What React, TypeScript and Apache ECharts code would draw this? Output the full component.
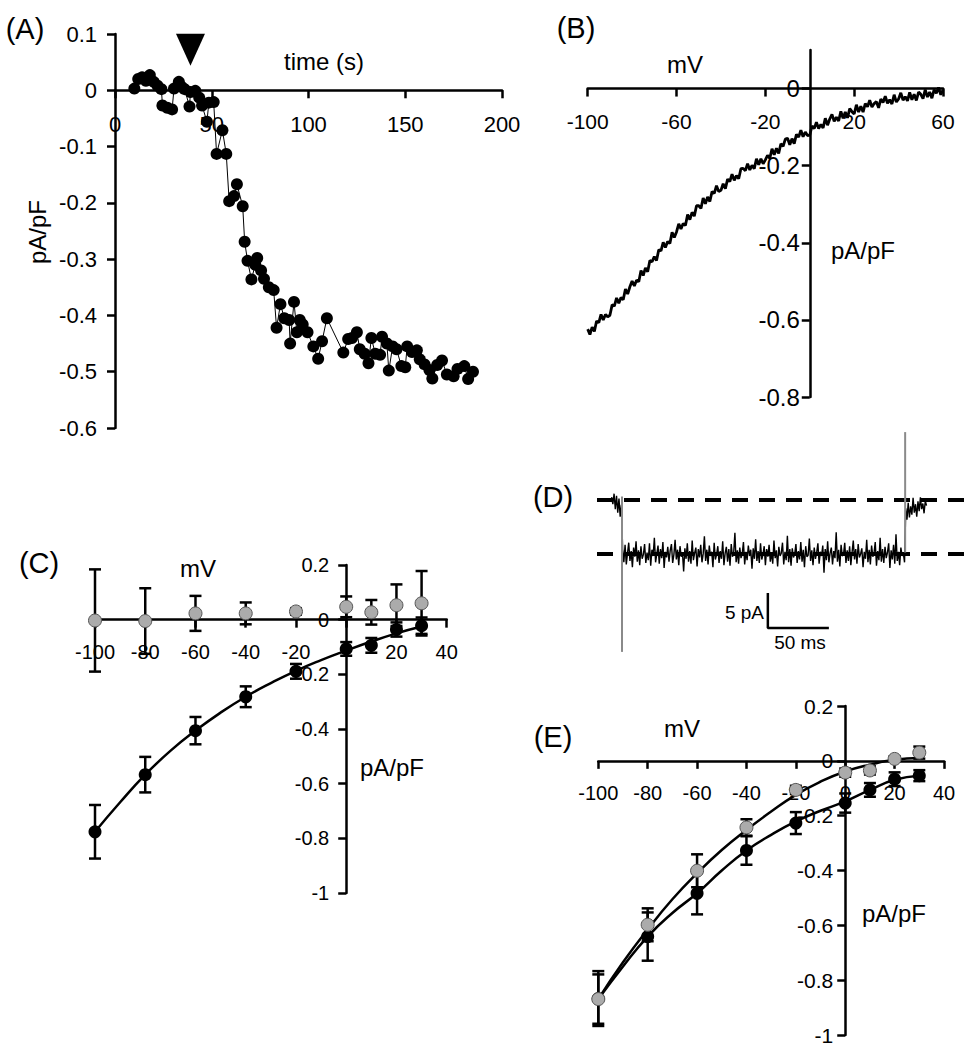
import React, { useEffect, useRef } from "react";
import * as echarts from "echarts";

const FONT = "Liberation Sans, Arial, Helvetica, sans-serif";

// ---------------- Panel A: current density vs time ----------------
const aTime = [10,12,14,16,18,20,22,24,24.5,27,29.5,30.5,33,34.5,36,38.5,39,41.5,43.5,45,47.5,48.5,51,52.5,55.5,57.5,59,61.5,63,66,67,68.5,70.5,72.5,73.5,75.5,77,79.5,82,83.5,85.5,87.5,90,90.5,92.5,94,95.5,97,99.5,102.5,105,107,109.5,118,120.5,122.5,125,126.5,129,131,132.5,134.5,137,138,140.5,141.5,143.5,145.5,148,150,151,153.5,156,157.5,160,162.5,164,166.5,169,171.5,175,177,180.5,182.5,185];
const aCurrent = [0.003,0.02,0.023,0.017,0.027,0.015,0.008,0.002,-0.027,-0.031,-0.034,0.003,0.015,0.006,0.002,-0.029,-0.003,-0.001,-0.013,-0.027,-0.056,-0.022,-0.021,-0.113,-0.071,-0.113,-0.197,-0.188,-0.167,-0.206,-0.269,-0.303,-0.336,-0.31,-0.298,-0.32,-0.335,-0.35,-0.355,-0.422,-0.38,-0.405,-0.408,-0.45,-0.376,-0.43,-0.408,-0.416,-0.43,-0.455,-0.477,-0.446,-0.405,-0.466,-0.442,-0.44,-0.43,-0.46,-0.468,-0.485,-0.44,-0.468,-0.47,-0.438,-0.45,-0.498,-0.455,-0.46,-0.49,-0.492,-0.455,-0.465,-0.462,-0.478,-0.487,-0.497,-0.512,-0.488,-0.48,-0.505,-0.508,-0.495,-0.49,-0.513,-0.5];
const aArrowTime = 39;
const aArrowLevel = 0.072;
const aXTicks = [0, 50, 100, 150, 200];

// ---------------- Panel B: ramp I-V trace (1 mV samples) ----------------
const bStartMv = -100;
const bStepMv = 1;
const bCurrent = [
  -0.624,-0.638,-0.619,-0.630,-0.603,-0.607,-0.586,-0.600,-0.586,-0.592,
  -0.588,-0.561,-0.564,-0.543,-0.557,-0.542,-0.548,-0.520,-0.533,-0.514,
  -0.499,-0.512,-0.497,-0.501,-0.472,-0.485,-0.465,-0.475,-0.446,-0.449,
  -0.436,-0.446,-0.418,-0.421,-0.399,-0.412,-0.397,-0.402,-0.373,-0.386,
  -0.372,-0.351,-0.364,-0.350,-0.355,-0.327,-0.340,-0.321,-0.331,-0.304,
  -0.304,-0.311,-0.284,-0.299,-0.281,-0.293,-0.267,-0.272,-0.252,-0.267,
  -0.264,-0.247,-0.260,-0.235,-0.241,-0.222,-0.238,-0.226,-0.234,-0.208,
  -0.207,-0.213,-0.195,-0.211,-0.199,-0.208,-0.182,-0.198,-0.182,-0.195,
  -0.185,-0.173,-0.181,-0.156,-0.172,-0.155,-0.168,-0.143,-0.150,-0.131,
  -0.129,-0.146,-0.130,-0.143,-0.119,-0.126,-0.108,-0.125,-0.113,-0.122,
  -0.121,-0.097,-0.104,-0.087,-0.104,-0.093,-0.102,-0.077,-0.095,-0.079,
  -0.067,-0.085,-0.074,-0.084,-0.059,-0.077,-0.061,-0.076,-0.052,-0.060,
  -0.066,-0.042,-0.061,-0.046,-0.061,-0.039,-0.047,-0.030,-0.048,-0.039,
  -0.034,-0.050,-0.027,-0.036,-0.020,-0.038,-0.029,-0.040,-0.016,-0.035,
  -0.027,-0.011,-0.030,-0.021,-0.032,-0.010,-0.029,-0.015,-0.031,-0.009,
  -0.015,-0.026,-0.003,-0.022,-0.009,-0.025,-0.003,-0.012,0.003,-0.016,-0.003
];
const bXTicks = [-100, -60, -20, 20, 60];
const bYTicks = [-0.8, -0.6, -0.4, -0.2, 0];

// ---------------- Panel C: mean I-V ----------------
const cVoltage = [-100, -80, -60, -40, -20, 0, 10, 20, 30];
const cBlackMean = [-0.776, -0.567, -0.406, -0.282, -0.189, -0.107, -0.094, -0.036, -0.022];
const cBlackErr = [0.098, 0.065, 0.05, 0.038, 0.027, 0.025, 0.027, 0.026, 0.03];
const cGrayMean = [-0.003, -0.005, 0.023, 0.023, 0.03, 0.047, 0.027, 0.053, 0.06];
const cGrayErr = [0.187, 0.12, 0.064, 0.04, 0.012, 0.038, 0.045, 0.076, 0.118];
const cFitVoltage = [-100, -90, -80, -70, -60, -50, -40, -30, -20, -10, 0, 10, 20, 30];
const cFitBlack = [-0.776, -0.668, -0.567, -0.48, -0.406, -0.34, -0.282, -0.232, -0.187, -0.148, -0.113, -0.08, -0.05, -0.025];
const cXTicks = [-100, -80, -60, -40, -20, 0, 20, 40];
const cXLabels = [-100, -80, -60, -40, -20, 20, 40];

// ---------------- Panel D: single-channel trace (1 ms samples) ----------------
const dClosed = 0;
const dOpen = -7.7;
const dPre = [[12, 0.4], [13, -0.6], [14, 0.9], [15, -1.3], [16, 0.6], [17, -1.8], [18, 0.2], [19, -2.4], [20, -0.7]];
const dOpenStartMs = 21;
const dSampleMs = 1;
const dOpenTrace = [
  -7.0,-8.9,-6.4,-9.2,-7.6,-6.1,-8.7,-7.3,-9.6,-6.8,-8.1,-5.9,-8.8,-7.2,-9.3,-6.6,-8.4,-7.8,-6.3,-9.0,
  -7.5,-8.6,-6.2,-9.4,-7.1,-8.0,-5.4,-8.9,-7.7,-6.5,-9.1,-7.0,-8.3,-6.0,-9.7,-7.4,-8.2,-6.7,-8.8,-7.2,
  -6.3,-9.0,-7.8,-5.7,-8.5,-7.1,-9.3,-6.6,-8.1,-7.5,-10.2,-6.9,-8.4,-6.2,-8.8,-7.3,-9.1,-5.8,-8.6,-7.6,
  -6.8,-9.5,-7.0,-8.2,-6.4,-8.9,-7.7,-5.2,-8.7,-7.1,-9.2,-6.5,-8.0,-7.4,-9.6,-6.1,-8.5,-7.8,-6.6,-9.0,
  -7.3,-8.4,-5.9,-9.3,-7.6,-6.7,-8.8,-7.0,-9.4,-6.3,-8.1,-7.5,-4.7,-8.9,-7.2,-9.1,-6.8,-8.3,-7.7,-6.0,
  -9.2,-7.4,-8.6,-6.5,-8.0,-7.1,-9.8,-6.9,-8.4,-5.6,-8.7,-7.3,-9.0,-6.2,-8.5,-7.8,-6.6,-9.3,-7.0,-8.1,
  -6.4,-8.8,-7.5,-9.1,-5.8,-8.3,-7.2,-9.5,-6.7,-8.0,-7.6,-6.1,-9.2,-7.4,-8.6,-5.1,-8.9,-7.0,-9.4,-6.9,
  -8.2,-7.7,-6.3,-9.0,-7.3,-8.5,-6.0,-8.8,-7.1,-9.6,-6.6,-8.1,-7.9,-5.5,-8.7,-7.2,-9.3,-6.8,-8.4,-7.5,
  -6.2,-9.1,-7.4,-8.0,-6.5,-10.4,-7.0,-8.6,-5.9,-8.9,-7.6,-6.8,-9.2,-7.3,-8.3,-4.6,-8.8,-7.1,-9.5,-6.4,
  -8.0,-7.8,-6.1,-9.0,-7.2,-8.7,-6.6,-9.3,-7.5,-5.8,-8.5,-7.0,-9.1,-6.3,-8.2,-7.7,-6.9,-9.6,-7.4,-8.4,
  -5.7,-8.9,-7.1,-9.2,-6.5,-8.1,-7.6,-6.0,-9.4,-7.3,-8.6,-5.4,-8.8,-7.0,-9.0,-6.7,-8.3,-7.5,-6.2,-9.7,
  -7.2,-8.5,-6.4,-9.1,-4.9,-8.7,-7.4,-9.3,-6.8,-8.0,-7.6,-8.9
];
const dPost = [[253,-1.2],[254,-2.8],[255,-0.4],[256,-2.5],[257,-0.9],[258,-2.1],[259,0.3],[260,-1.8],[261,-0.6],[262,-2.4],[263,-0.2],[264,-1.6],[265,0.4],[266,-1.3],[267,-0.5],[268,-1.9],[269,-0.1],[270,-0.8]];
const dSpikeOn = [[20.5, 0.5], [20.5, -21.7]];
const dSpikeOff = [[252.5, -7.5], [252.5, 9.7]];
const dExtentMs = 304;
const dBarOriginMs = 140;
const dBarOriginPa = -18.3;
const dBarMs = 50;
const dBarPa = 5;

// ---------------- Panel E: mean I-V, two conditions ----------------
const eVoltage = [-100, -80, -60, -40, -20, 0, 10, 20, 30];
const eBlackMean = [-0.867, -0.641, -0.483, -0.327, -0.227, -0.154, -0.106, -0.067, -0.054];
const eBlackErr = [0.1, 0.088, 0.077, 0.052, 0.04, 0.035, 0.025, 0.025, 0.02];
const eGrayMean = [-0.869, -0.598, -0.401, -0.243, -0.106, -0.043, -0.035, 0.007, 0.03];
const eGrayErr = [0.09, 0.06, 0.06, 0.03, 0.015, 0.015, 0.015, 0.01, 0.022];
const eFitVoltage = [-100, -90, -80, -70, -60, -50, -40, -30, -20, -10, 0, 10, 20, 30];
const eFitGray = [-0.869, -0.735, -0.615, -0.505, -0.41, -0.325, -0.252, -0.185, -0.124, -0.076, -0.039, -0.014, 0.004, 0.01];
const eFitBlack = [-0.869, -0.75, -0.641, -0.555, -0.483, -0.4, -0.327, -0.27, -0.221, -0.182, -0.148, -0.106, -0.069, -0.054];
const eXTicks = [-100, -80, -60, -40, -20, 0, 20, 40];

const BLACK = "#000000";
const GRAY = "#ababab";

// grid boxes [left, top, width, height]
const gA = [115, 34, 387, 394];
const gB = [587.7, 50, 355.3, 347];
const gC = [95, 565, 351.7, 328];
const gD = [597, 430, 371, 224];
const gE = [598.3, 706, 345.7, 329];

function zip(xs: number[], ys: number[]) {
  return xs.map((x, i) => [x, ys[i]]);
}
function zip3(xs: number[], ys: number[], es: number[]) {
  return xs.map((x, i) => [x, ys[i], es[i]]);
}
// offset that moves an edge axis to the zero of the other axis
function xOffsetToZero(g: number[], yMin: number, yMax: number) {
  return -g[3] * (0 - yMin) / (yMax - yMin);
}
function yOffsetToZero(g: number[], xMin: number, xMax: number) {
  return -g[2] * (0 - xMin) / (xMax - xMin);
}

const axisLine = { show: true, onZero: false, lineStyle: { color: BLACK, width: 2.5 } };
const axisTick = (custom?: number[]) => ({
  show: true,
  length: 8,
  lineStyle: { color: BLACK, width: 2.5 },
  ...(custom ? { customValues: custom } : {}),
});
const label = (size: number, margin: number, custom?: number[]) => ({
  color: BLACK,
  fontSize: size,
  fontFamily: FONT,
  margin,
  ...(custom ? { customValues: custom } : {}),
});

function errorBarRender(params: any, api: any) {
  const x = api.value(0);
  const y = api.value(1);
  const e = api.value(2);
  const top = api.coord([x, y + e]);
  const bot = api.coord([x, y - e]);
  const hw = 6;
  const style = { stroke: BLACK, lineWidth: 2.5, fill: null };
  return {
    type: "group",
    children: [
      { type: "line", shape: { x1: top[0], y1: top[1], x2: bot[0], y2: bot[1] }, style },
      { type: "line", shape: { x1: top[0] - hw, y1: top[1], x2: top[0] + hw, y2: top[1] }, style },
      { type: "line", shape: { x1: bot[0] - hw, y1: bot[1], x2: bot[0] + hw, y2: bot[1] }, style },
    ],
  };
}

function txt(text: string, x: number, y: number, size: number, extra: any = {}) {
  const { align, ...rest } = extra;
  return {
    type: "text",
    x,
    y,
    silent: true,
    ...rest,
    style: {
      text,
      fill: BLACK,
      fontSize: size,
      fontFamily: FONT,
      align: align || "center",
      verticalAlign: "middle",
    },
  };
}

const gridOf = (g: number[]) => ({ left: g[0], top: g[1], width: g[2], height: g[3], outerBoundsMode: "none", containLabel: false });

export default function App() {
  const ref = useRef<HTMLDivElement>(null);

  useEffect(() => {
    if (!ref.current) return;
    const chart = echarts.init(ref.current, undefined, { renderer: "svg" });

    const bData = bCurrent.map((v, i) => [bStartMv + i * bStepMv, v]);
    const dOpenData = dOpenTrace.map((v, i) => [dOpenStartMs + i * dSampleMs, v]);
    const dTrace = [...dPre, ...dOpenData, ...dPost];

    const option: any = {
      animation: false,
      backgroundColor: "#ffffff",
      textStyle: { fontFamily: FONT },
      grid: [gridOf(gA), gridOf(gB), gridOf(gC), gridOf(gD), gridOf(gE)],
      xAxis: [
        { gridIndex: 0, type: "value", min: 0, max: 200, position: "bottom", offset: xOffsetToZero(gA, -0.6, 0.1), axisLine, axisTick: axisTick(aXTicks), axisLabel: label(22, 23, aXTicks), splitLine: { show: false } },
        { gridIndex: 1, type: "value", min: -100, max: 60, position: "bottom", offset: xOffsetToZero(gB, -0.8, 0.1), axisLine, axisTick: axisTick(bXTicks), axisLabel: label(21, 22, bXTicks), splitLine: { show: false } },
        { gridIndex: 2, type: "value", min: -100, max: 40, position: "bottom", offset: xOffsetToZero(gC, -1, 0.2), axisLine, axisTick: axisTick(cXTicks), axisLabel: label(20, 22, cXLabels), splitLine: { show: false } },
        { gridIndex: 3, type: "value", min: 0, max: dExtentMs, show: false },
        { gridIndex: 4, type: "value", min: -100, max: 40, position: "bottom", offset: xOffsetToZero(gE, -1, 0.2), axisLine, axisTick: axisTick(eXTicks), axisLabel: label(20, 22, eXTicks), splitLine: { show: false } },
      ],
      yAxis: [
        { gridIndex: 0, type: "value", min: -0.6, max: 0.1, interval: 0.1, position: "left", axisLine, axisTick: axisTick(), axisLabel: label(22, 18), splitLine: { show: false } },
        { gridIndex: 1, type: "value", min: -0.8, max: 0.1, position: "left", offset: yOffsetToZero(gB, -100, 60), axisLine, axisTick: axisTick(bYTicks), axisLabel: label(24, 10, bYTicks), splitLine: { show: false } },
        { gridIndex: 2, type: "value", min: -1, max: 0.2, interval: 0.2, position: "left", offset: yOffsetToZero(gC, -100, 40), axisLine, axisTick: axisTick(), axisLabel: label(20, 17), splitLine: { show: false } },
        { gridIndex: 3, type: "value", min: -22, max: 10, show: false },
        { gridIndex: 4, type: "value", min: -1, max: 0.2, interval: 0.2, position: "left", offset: yOffsetToZero(gE, -100, 40), axisLine, axisTick: axisTick(), axisLabel: label(21, 12), splitLine: { show: false } },
      ],
      series: [
        // ---- A ----
        {
          type: "line", xAxisIndex: 0, yAxisIndex: 0, data: zip(aTime, aCurrent),
          symbol: "circle", symbolSize: 12, showSymbol: true,
          lineStyle: { color: BLACK, width: 1 }, itemStyle: { color: BLACK, opacity: 1 }, z: 3,
        },
        {
          type: "scatter", xAxisIndex: 0, yAxisIndex: 0, data: [[aArrowTime, aArrowLevel]],
          symbol: "path://M0 0 L10 0 L5 11 Z", symbolSize: [29, 32], itemStyle: { color: BLACK, opacity: 1 }, z: 4,
        },
        // ---- B ----
        {
          type: "line", xAxisIndex: 1, yAxisIndex: 1, data: bData, showSymbol: false,
          lineStyle: { color: BLACK, width: 2.8 }, z: 3,
        },
        // ---- C ----
        { type: "custom", xAxisIndex: 2, yAxisIndex: 2, data: zip3(cVoltage, cBlackMean, cBlackErr), renderItem: errorBarRender, encode: { x: 0, y: 1 }, z: 2 },
        { type: "custom", xAxisIndex: 2, yAxisIndex: 2, data: zip3(cVoltage, cGrayMean, cGrayErr), renderItem: errorBarRender, encode: { x: 0, y: 1 }, z: 2 },
        {
          type: "line", xAxisIndex: 2, yAxisIndex: 2, data: zip(cFitVoltage, cFitBlack), showSymbol: false, smooth: true,
          lineStyle: { color: BLACK, width: 2.5 }, z: 3,
        },
        { type: "scatter", xAxisIndex: 2, yAxisIndex: 2, data: zip(cVoltage, cBlackMean), symbolSize: 13, itemStyle: { color: BLACK, opacity: 1 }, z: 4 },
        { type: "scatter", xAxisIndex: 2, yAxisIndex: 2, data: zip(cVoltage, cGrayMean), symbolSize: 13, itemStyle: { color: GRAY, borderColor: "#555555", borderWidth: 1, opacity: 1 }, z: 5 },
        // ---- D ----
        { type: "line", xAxisIndex: 3, yAxisIndex: 3, data: [[0, dClosed], [dExtentMs, dClosed]], showSymbol: false, lineStyle: { color: BLACK, width: 4, type: [16, 11] }, z: 2 },
        { type: "line", xAxisIndex: 3, yAxisIndex: 3, data: [[0, dOpen], [dExtentMs, dOpen]], showSymbol: false, lineStyle: { color: BLACK, width: 4, type: [16, 11] }, z: 2 },
        { type: "line", xAxisIndex: 3, yAxisIndex: 3, data: dTrace, showSymbol: false, lineStyle: { color: BLACK, width: 1.4 }, z: 3 },
        { type: "line", xAxisIndex: 3, yAxisIndex: 3, data: dSpikeOn, showSymbol: false, lineStyle: { color: "#8a8a8a", width: 2 }, z: 4 },
        { type: "line", xAxisIndex: 3, yAxisIndex: 3, data: dSpikeOff, showSymbol: false, lineStyle: { color: "#8a8a8a", width: 2 }, z: 4 },
        {
          type: "line", xAxisIndex: 3, yAxisIndex: 3,
          data: [[dBarOriginMs, dBarOriginPa + dBarPa], [dBarOriginMs, dBarOriginPa], [dBarOriginMs + dBarMs, dBarOriginPa]],
          showSymbol: false, lineStyle: { color: BLACK, width: 2.5 }, z: 3,
        },
        // ---- E ----
        { type: "custom", xAxisIndex: 4, yAxisIndex: 4, data: zip3(eVoltage, eBlackMean, eBlackErr), renderItem: errorBarRender, encode: { x: 0, y: 1 }, z: 2 },
        { type: "custom", xAxisIndex: 4, yAxisIndex: 4, data: zip3(eVoltage, eGrayMean, eGrayErr), renderItem: errorBarRender, encode: { x: 0, y: 1 }, z: 2 },
        { type: "line", xAxisIndex: 4, yAxisIndex: 4, data: zip(eFitVoltage, eFitGray), showSymbol: false, smooth: true, lineStyle: { color: BLACK, width: 2.5 }, z: 3 },
        { type: "line", xAxisIndex: 4, yAxisIndex: 4, data: zip(eFitVoltage, eFitBlack), showSymbol: false, smooth: true, lineStyle: { color: BLACK, width: 2.5 }, z: 3 },
        { type: "scatter", xAxisIndex: 4, yAxisIndex: 4, data: zip(eVoltage, eBlackMean), symbolSize: 13, itemStyle: { color: BLACK, opacity: 1 }, z: 4 },
        { type: "scatter", xAxisIndex: 4, yAxisIndex: 4, data: zip(eVoltage, eGrayMean), symbolSize: 13, itemStyle: { color: GRAY, borderColor: "#555555", borderWidth: 1, opacity: 1 }, z: 5 },
      ],
      graphic: [
        txt("(A)", 25, 29, 29),
        txt("time (s)", 324, 61, 24),
        txt("pA/pF", 37, 232, 24, { rotation: Math.PI / 2 }),
        txt("(B)", 576, 28, 29),
        txt("mV", 685, 64, 24),
        txt("pA/pF", 863, 250, 24),
        txt("(C)", 39, 563, 29),
        txt("mV", 198, 568, 24),
        txt("pA/pF", 392, 767, 24),
        txt("(D)", 553, 497, 29),
        txt("5 pA", 764, 612, 19, { align: "right" }),
        txt("50 ms", 800, 642, 19),
        txt("(E)", 553, 737, 29),
        txt("mV", 682, 728, 24),
        txt("pA/pF", 894, 913, 24),
      ],
    };

    chart.setOption(option);
    return () => chart.dispose();
  }, []);

  return (
    <div
      ref={ref}
      style={{ position: "absolute", left: 0, top: 0, width: 968, height: 1050, background: "#fff" }}
    />
  );
}
